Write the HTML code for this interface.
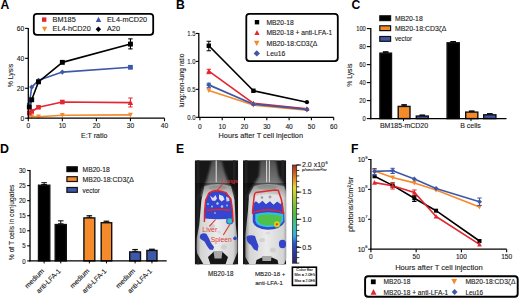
<!DOCTYPE html>
<html><head><meta charset="utf-8"><style>
html,body{margin:0;padding:0;background:#fff;}
svg{display:block;font-family:"Liberation Sans", sans-serif;}
</style></head><body>
<svg width="520" height="299" viewBox="0 0 520 299">
<rect width="520" height="299" fill="#fff"/>
<text x="0.60" y="8.70" font-size="12.2" text-anchor="start" font-weight="bold" fill="#000">A</text>
<polyline points="29.32,115.66 31.71,116.40 38.52,116.70 62.35,115.21 130.45,114.91" fill="none" stroke="#f58a2a" stroke-width="1.6" stroke-linejoin="round"/>
<polyline points="29.32,112.96 31.71,111.46 38.52,107.27 62.35,102.03 130.45,102.63" fill="none" stroke="#e3262f" stroke-width="1.6" stroke-linejoin="round"/>
<polyline points="29.32,103.83 31.71,87.06 38.52,80.33 62.35,72.09 130.45,67.30" fill="none" stroke="#3d58a8" stroke-width="1.6" stroke-linejoin="round"/>
<polyline points="29.32,106.97 31.71,99.79 38.52,81.82 62.35,62.36 130.45,44.10" fill="none" stroke="#000" stroke-width="1.6" stroke-linejoin="round"/>
<polygon points="29.32,118.16 31.72,113.56 26.92,113.56" fill="#f58a2a"/>
<polygon points="31.71,118.90 34.10,114.30 29.30,114.30" fill="#f58a2a"/>
<polygon points="38.52,119.20 40.91,114.60 36.12,114.60" fill="#f58a2a"/>
<polygon points="62.35,117.71 64.75,113.11 59.95,113.11" fill="#f58a2a"/>
<polygon points="130.45,117.41 132.85,112.81 128.05,112.81" fill="#f58a2a"/>
<rect x="27.02" y="110.66" width="4.60" height="4.60" fill="#e3262f" stroke="none" stroke-width="0" rx="0"/>
<rect x="29.41" y="109.16" width="4.60" height="4.60" fill="#e3262f" stroke="none" stroke-width="0" rx="0"/>
<rect x="36.22" y="104.97" width="4.60" height="4.60" fill="#e3262f" stroke="none" stroke-width="0" rx="0"/>
<rect x="60.05" y="99.73" width="4.60" height="4.60" fill="#e3262f" stroke="none" stroke-width="0" rx="0"/>
<line x1="130.45" y1="97.99" x2="130.45" y2="106.97" stroke="#e3262f" stroke-width="1.0"/>
<line x1="128.25" y1="97.99" x2="132.65" y2="97.99" stroke="#e3262f" stroke-width="1.0"/>
<line x1="128.25" y1="106.97" x2="132.65" y2="106.97" stroke="#e3262f" stroke-width="1.0"/>
<polygon points="130.45,99.83 133.15,105.03 127.75,105.03" fill="#e3262f"/>
<polygon points="29.32,101.23 31.92,103.83 29.32,106.43 26.72,103.83" fill="#3d58a8"/>
<polygon points="31.71,84.46 34.30,87.06 31.71,89.66 29.11,87.06" fill="#3d58a8"/>
<polygon points="38.52,77.73 41.12,80.33 38.52,82.93 35.91,80.33" fill="#3d58a8"/>
<polygon points="62.35,69.49 64.95,72.09 62.35,74.69 59.75,72.09" fill="#3d58a8"/>
<rect x="128.05" y="64.90" width="4.80" height="4.80" fill="#3d58a8" stroke="none" stroke-width="0" rx="0"/>
<rect x="26.87" y="104.52" width="4.90" height="4.90" fill="#000" stroke="none" stroke-width="0" rx="0"/>
<rect x="29.26" y="97.34" width="4.90" height="4.90" fill="#000" stroke="none" stroke-width="0" rx="0"/>
<rect x="36.06" y="79.37" width="4.90" height="4.90" fill="#000" stroke="none" stroke-width="0" rx="0"/>
<rect x="59.90" y="59.91" width="4.90" height="4.90" fill="#000" stroke="none" stroke-width="0" rx="0"/>
<rect x="128.00" y="41.65" width="4.90" height="4.90" fill="#000" stroke="none" stroke-width="0" rx="0"/>
<line x1="130.45" y1="38.86" x2="130.45" y2="48.89" stroke="#000" stroke-width="1.1"/>
<line x1="128.25" y1="38.86" x2="132.65" y2="38.86" stroke="#000" stroke-width="1.1"/>
<line x1="128.25" y1="48.89" x2="132.65" y2="48.89" stroke="#000" stroke-width="1.1"/>
<line x1="28.30" y1="27.88" x2="28.30" y2="118.80" stroke="#000" stroke-width="1.3"/>
<line x1="27.70" y1="118.20" x2="164.50" y2="118.20" stroke="#000" stroke-width="1.3"/>
<line x1="25.10" y1="118.20" x2="28.30" y2="118.20" stroke="#000" stroke-width="1.1"/>
<text x="24.30" y="120.60" font-size="6.7" text-anchor="end" font-weight="normal" fill="#222" stroke="#222" stroke-width="0.12">0</text>
<line x1="25.10" y1="88.26" x2="28.30" y2="88.26" stroke="#000" stroke-width="1.1"/>
<text x="24.30" y="90.66" font-size="6.7" text-anchor="end" font-weight="normal" fill="#222" stroke="#222" stroke-width="0.12">20</text>
<line x1="25.10" y1="58.32" x2="28.30" y2="58.32" stroke="#000" stroke-width="1.1"/>
<text x="24.30" y="60.72" font-size="6.7" text-anchor="end" font-weight="normal" fill="#222" stroke="#222" stroke-width="0.12">40</text>
<line x1="25.10" y1="28.38" x2="28.30" y2="28.38" stroke="#000" stroke-width="1.1"/>
<text x="24.30" y="30.78" font-size="6.7" text-anchor="end" font-weight="normal" fill="#222" stroke="#222" stroke-width="0.12">60</text>
<line x1="28.30" y1="118.20" x2="28.30" y2="121.20" stroke="#000" stroke-width="1.1"/>
<text x="28.30" y="127.80" font-size="6.6" text-anchor="middle" font-weight="normal" fill="#222" stroke="#222" stroke-width="0.12">0</text>
<line x1="62.35" y1="118.20" x2="62.35" y2="121.20" stroke="#000" stroke-width="1.1"/>
<text x="62.35" y="127.80" font-size="6.6" text-anchor="middle" font-weight="normal" fill="#222" stroke="#222" stroke-width="0.12">10</text>
<line x1="96.40" y1="118.20" x2="96.40" y2="121.20" stroke="#000" stroke-width="1.1"/>
<text x="96.40" y="127.80" font-size="6.6" text-anchor="middle" font-weight="normal" fill="#222" stroke="#222" stroke-width="0.12">20</text>
<line x1="130.45" y1="118.20" x2="130.45" y2="121.20" stroke="#000" stroke-width="1.1"/>
<text x="130.45" y="127.80" font-size="6.6" text-anchor="middle" font-weight="normal" fill="#222" stroke="#222" stroke-width="0.12">30</text>
<line x1="164.50" y1="118.20" x2="164.50" y2="121.20" stroke="#000" stroke-width="1.1"/>
<text x="164.50" y="127.80" font-size="6.6" text-anchor="middle" font-weight="normal" fill="#222" stroke="#222" stroke-width="0.12">40</text>
<text x="12.60" y="75.50" font-size="6.9" text-anchor="middle" font-weight="normal" fill="#222" transform="rotate(-90 12.6 75.5)" stroke="#222" stroke-width="0.12">% Lysis</text>
<text x="94.20" y="138.20" font-size="7.05" text-anchor="middle" font-weight="normal" fill="#222" stroke="#222" stroke-width="0.12">E:T ratio</text>
<rect x="33.80" y="13.80" width="119.40" height="21.00" fill="#fff" stroke="#000" stroke-width="1.8" rx="3"/>
<rect x="42.00" y="17.40" width="4.40" height="4.40" fill="#e3262f" stroke="none" stroke-width="0" rx="0"/>
<text x="52.60" y="21.90" font-size="7.3" text-anchor="start" font-weight="normal" fill="#222" stroke="#222" stroke-width="0.12">BM185</text>
<polygon points="98.50,16.75 101.25,22.05 95.75,22.05" fill="#3d58a8"/>
<text x="107.00" y="21.90" font-size="7.3" text-anchor="start" font-weight="normal" fill="#222" stroke="#222" stroke-width="0.12">EL4-mCD20</text>
<polygon points="44.60,31.70 47.20,26.70 42.00,26.70" fill="#f58a2a"/>
<text x="52.60" y="31.30" font-size="7.3" text-anchor="start" font-weight="normal" fill="#222" stroke="#222" stroke-width="0.12">EL4-hCD20</text>
<polygon points="98.40,26.55 101.15,29.30 98.40,32.05 95.65,29.30" fill="#000"/>
<text x="107.00" y="31.30" font-size="7.3" text-anchor="start" font-weight="normal" fill="#222" stroke="#222" stroke-width="0.12">A20</text>
<text x="176.10" y="8.70" font-size="12.2" text-anchor="start" font-weight="bold" fill="#000">B</text>
<polyline points="208.82,90.47 253.42,105.00 306.94,110.03" fill="none" stroke="#f58a2a" stroke-width="1.7" stroke-linejoin="round"/>
<polyline points="208.82,71.18 253.42,103.33 306.94,108.91" fill="none" stroke="#e3262f" stroke-width="1.7" stroke-linejoin="round"/>
<polyline points="208.82,84.88 253.42,104.16 306.94,109.47" fill="none" stroke="#3d58a8" stroke-width="1.7" stroke-linejoin="round"/>
<polyline points="208.82,45.75 253.42,90.75 306.94,102.21" fill="none" stroke="#000" stroke-width="1.7" stroke-linejoin="round"/>
<polygon points="208.82,93.07 211.32,88.27 206.32,88.27" fill="#f58a2a"/>
<polygon points="253.42,107.60 255.92,102.80 250.92,102.80" fill="#f58a2a"/>
<polygon points="306.94,112.63 309.44,107.83 304.44,107.83" fill="#f58a2a"/>
<polygon points="208.82,68.58 211.32,73.38 206.32,73.38" fill="#e3262f"/>
<polygon points="253.42,100.72 255.92,105.53 250.92,105.53" fill="#e3262f"/>
<polygon points="306.94,106.31 309.44,111.11 304.44,111.11" fill="#e3262f"/>
<line x1="208.82" y1="69.23" x2="208.82" y2="73.70" stroke="#e3262f" stroke-width="1.0"/>
<line x1="206.62" y1="69.23" x2="211.02" y2="69.23" stroke="#e3262f" stroke-width="1.0"/>
<line x1="206.62" y1="73.70" x2="211.02" y2="73.70" stroke="#e3262f" stroke-width="1.0"/>
<polygon points="208.82,82.28 211.42,84.88 208.82,87.48 206.22,84.88" fill="#3d58a8"/>
<polygon points="253.42,101.56 256.02,104.16 253.42,106.76 250.82,104.16" fill="#3d58a8"/>
<polygon points="306.94,106.87 309.54,109.47 306.94,112.07 304.34,109.47" fill="#3d58a8"/>
<line x1="208.82" y1="83.20" x2="208.82" y2="87.67" stroke="#3d58a8" stroke-width="1.0"/>
<line x1="206.62" y1="83.20" x2="211.02" y2="83.20" stroke="#3d58a8" stroke-width="1.0"/>
<line x1="206.62" y1="87.67" x2="211.02" y2="87.67" stroke="#3d58a8" stroke-width="1.0"/>
<rect x="206.62" y="43.55" width="4.40" height="4.40" fill="#000" stroke="none" stroke-width="0" rx="0"/>
<line x1="208.82" y1="41.28" x2="208.82" y2="50.78" stroke="#000" stroke-width="1.0"/>
<line x1="206.62" y1="41.28" x2="211.02" y2="41.28" stroke="#000" stroke-width="1.0"/>
<line x1="206.62" y1="50.78" x2="211.02" y2="50.78" stroke="#000" stroke-width="1.0"/>
<rect x="251.22" y="88.55" width="4.40" height="4.40" fill="#000" stroke="none" stroke-width="0" rx="0"/>
<circle cx="306.94" cy="102.21" r="2.10" fill="#000"/>
<line x1="198.80" y1="32.95" x2="198.80" y2="117.90" stroke="#000" stroke-width="1.3"/>
<line x1="198.20" y1="117.30" x2="333.70" y2="117.30" stroke="#000" stroke-width="1.3"/>
<line x1="195.80" y1="117.30" x2="198.80" y2="117.30" stroke="#000" stroke-width="1.1"/>
<text x="0" y="0" font-size="7.6" text-anchor="end" font-weight="normal" fill="#222" transform="translate(195.50 120.00) scale(0.78 1)" stroke="#222" stroke-width="0.12">0.0</text>
<line x1="195.80" y1="89.35" x2="198.80" y2="89.35" stroke="#000" stroke-width="1.1"/>
<text x="0" y="0" font-size="7.6" text-anchor="end" font-weight="normal" fill="#222" transform="translate(195.50 92.05) scale(0.78 1)" stroke="#222" stroke-width="0.12">0.5</text>
<line x1="195.80" y1="61.40" x2="198.80" y2="61.40" stroke="#000" stroke-width="1.1"/>
<text x="0" y="0" font-size="7.6" text-anchor="end" font-weight="normal" fill="#222" transform="translate(195.50 64.10) scale(0.78 1)" stroke="#222" stroke-width="0.12">1.0</text>
<line x1="195.80" y1="33.45" x2="198.80" y2="33.45" stroke="#000" stroke-width="1.1"/>
<text x="0" y="0" font-size="7.6" text-anchor="end" font-weight="normal" fill="#222" transform="translate(195.50 36.15) scale(0.78 1)" stroke="#222" stroke-width="0.12">1.5</text>
<line x1="199.90" y1="117.30" x2="199.90" y2="120.30" stroke="#000" stroke-width="1.1"/>
<text x="199.90" y="128.60" font-size="6.6" text-anchor="middle" font-weight="normal" fill="#222" stroke="#222" stroke-width="0.12">0</text>
<line x1="222.20" y1="117.30" x2="222.20" y2="120.30" stroke="#000" stroke-width="1.1"/>
<text x="222.20" y="128.60" font-size="6.6" text-anchor="middle" font-weight="normal" fill="#222" stroke="#222" stroke-width="0.12">10</text>
<line x1="244.50" y1="117.30" x2="244.50" y2="120.30" stroke="#000" stroke-width="1.1"/>
<text x="244.50" y="128.60" font-size="6.6" text-anchor="middle" font-weight="normal" fill="#222" stroke="#222" stroke-width="0.12">20</text>
<line x1="266.80" y1="117.30" x2="266.80" y2="120.30" stroke="#000" stroke-width="1.1"/>
<text x="266.80" y="128.60" font-size="6.6" text-anchor="middle" font-weight="normal" fill="#222" stroke="#222" stroke-width="0.12">30</text>
<line x1="289.10" y1="117.30" x2="289.10" y2="120.30" stroke="#000" stroke-width="1.1"/>
<text x="289.10" y="128.60" font-size="6.6" text-anchor="middle" font-weight="normal" fill="#222" stroke="#222" stroke-width="0.12">40</text>
<line x1="311.40" y1="117.30" x2="311.40" y2="120.30" stroke="#000" stroke-width="1.1"/>
<text x="311.40" y="128.60" font-size="6.6" text-anchor="middle" font-weight="normal" fill="#222" stroke="#222" stroke-width="0.12">50</text>
<line x1="333.70" y1="117.30" x2="333.70" y2="120.30" stroke="#000" stroke-width="1.1"/>
<text x="333.70" y="128.60" font-size="6.6" text-anchor="middle" font-weight="normal" fill="#222" stroke="#222" stroke-width="0.12">60</text>
<text x="184.00" y="80.60" font-size="7.2" text-anchor="middle" font-weight="normal" fill="#222" transform="rotate(-90 184.0 80.6)" textLength="54" lengthAdjust="spacingAndGlyphs" stroke="#222" stroke-width="0.12">lung:non-lung ratio</text>
<text x="260.80" y="137.80" font-size="7.33" text-anchor="middle" font-weight="normal" fill="#222" stroke="#222" stroke-width="0.12">Hours after T cell injection</text>
<rect x="246.30" y="13.80" width="91.50" height="47.30" fill="#fff" stroke="#000" stroke-width="1.8" rx="3"/>
<rect x="254.80" y="20.00" width="4.40" height="4.40" fill="#000" stroke="none" stroke-width="0" rx="0"/>
<text x="266.50" y="24.60" font-size="6.7" text-anchor="start" font-weight="normal" fill="#222" stroke="#222" stroke-width="0.12">MB20-18</text>
<polygon points="257.00,30.10 259.60,35.10 254.40,35.10" fill="#e3262f"/>
<text x="266.50" y="35.20" font-size="6.7" text-anchor="start" font-weight="normal" fill="#222" stroke="#222" stroke-width="0.12">MB20-18 + anti-LFA-1</text>
<polygon points="256.70,46.10 259.50,40.70 253.90,40.70" fill="#f58a2a"/>
<text x="266.50" y="45.80" font-size="6.7" text-anchor="start" font-weight="normal" fill="#222" textLength="50.7" lengthAdjust="spacingAndGlyphs" stroke="#222" stroke-width="0.12">MB20-18:CD3ζΔ</text>
<polygon points="256.80,50.20 260.00,53.40 256.80,56.60 253.60,53.40" fill="#3d58a8"/>
<text x="266.50" y="55.80" font-size="6.7" text-anchor="start" font-weight="normal" fill="#222" stroke="#222" stroke-width="0.12">Leu16</text>
<text x="351.40" y="8.90" font-size="12.2" text-anchor="start" font-weight="bold" fill="#000">C</text>
<line x1="385.70" y1="51.73" x2="385.70" y2="52.45" stroke="#000" stroke-width="1.0"/>
<line x1="382.90" y1="51.73" x2="388.50" y2="51.73" stroke="#000" stroke-width="1.0"/>
<line x1="382.90" y1="52.45" x2="388.50" y2="52.45" stroke="#000" stroke-width="1.0"/>
<rect x="379.90" y="53.15" width="11.60" height="65.45" fill="#000" stroke="#111" stroke-width="1.4" rx="0"/>
<line x1="404.10" y1="104.65" x2="404.10" y2="105.73" stroke="#000" stroke-width="1.0"/>
<line x1="401.30" y1="104.65" x2="406.90" y2="104.65" stroke="#000" stroke-width="1.0"/>
<line x1="401.30" y1="105.73" x2="406.90" y2="105.73" stroke="#000" stroke-width="1.0"/>
<rect x="398.20" y="106.43" width="11.80" height="12.17" fill="#f58a2a" stroke="#111" stroke-width="1.4" rx="0"/>
<line x1="422.30" y1="115.00" x2="422.30" y2="115.36" stroke="#000" stroke-width="1.0"/>
<line x1="419.50" y1="115.00" x2="425.10" y2="115.00" stroke="#000" stroke-width="1.0"/>
<line x1="419.50" y1="115.36" x2="425.10" y2="115.36" stroke="#000" stroke-width="1.0"/>
<rect x="416.30" y="116.06" width="12.00" height="2.54" fill="#3d58a8" stroke="#111" stroke-width="1.4" rx="0"/>
<line x1="453.20" y1="41.56" x2="453.20" y2="42.10" stroke="#000" stroke-width="1.0"/>
<line x1="450.40" y1="41.56" x2="456.00" y2="41.56" stroke="#000" stroke-width="1.0"/>
<line x1="450.40" y1="42.10" x2="456.00" y2="42.10" stroke="#000" stroke-width="1.0"/>
<rect x="447.10" y="42.80" width="12.20" height="75.80" fill="#000" stroke="#111" stroke-width="1.4" rx="0"/>
<line x1="471.75" y1="110.95" x2="471.75" y2="111.40" stroke="#000" stroke-width="1.0"/>
<line x1="468.95" y1="110.95" x2="474.55" y2="110.95" stroke="#000" stroke-width="1.0"/>
<line x1="468.95" y1="111.40" x2="474.55" y2="111.40" stroke="#000" stroke-width="1.0"/>
<rect x="465.70" y="112.10" width="12.10" height="6.50" fill="#f58a2a" stroke="#111" stroke-width="1.4" rx="0"/>
<line x1="489.80" y1="113.65" x2="489.80" y2="114.10" stroke="#000" stroke-width="1.0"/>
<line x1="487.00" y1="113.65" x2="492.60" y2="113.65" stroke="#000" stroke-width="1.0"/>
<line x1="487.00" y1="114.10" x2="492.60" y2="114.10" stroke="#000" stroke-width="1.0"/>
<rect x="483.70" y="114.80" width="12.20" height="3.80" fill="#3d58a8" stroke="#111" stroke-width="1.4" rx="0"/>
<line x1="370.80" y1="28.10" x2="370.80" y2="119.20" stroke="#000" stroke-width="1.3"/>
<line x1="370.20" y1="118.60" x2="506.50" y2="118.60" stroke="#000" stroke-width="1.3"/>
<line x1="366.80" y1="118.60" x2="370.80" y2="118.60" stroke="#000" stroke-width="1.1"/>
<text x="0" y="0" font-size="6.8" text-anchor="end" font-weight="normal" fill="#222" transform="translate(365.80 121.00) scale(0.85 1)" stroke="#222" stroke-width="0.12">0</text>
<line x1="366.80" y1="100.60" x2="370.80" y2="100.60" stroke="#000" stroke-width="1.1"/>
<text x="0" y="0" font-size="6.8" text-anchor="end" font-weight="normal" fill="#222" transform="translate(365.80 103.00) scale(0.85 1)" stroke="#222" stroke-width="0.12">20</text>
<line x1="366.80" y1="82.60" x2="370.80" y2="82.60" stroke="#000" stroke-width="1.1"/>
<text x="0" y="0" font-size="6.8" text-anchor="end" font-weight="normal" fill="#222" transform="translate(365.80 85.00) scale(0.85 1)" stroke="#222" stroke-width="0.12">40</text>
<line x1="366.80" y1="64.60" x2="370.80" y2="64.60" stroke="#000" stroke-width="1.1"/>
<text x="0" y="0" font-size="6.8" text-anchor="end" font-weight="normal" fill="#222" transform="translate(365.80 67.00) scale(0.85 1)" stroke="#222" stroke-width="0.12">60</text>
<line x1="366.80" y1="46.60" x2="370.80" y2="46.60" stroke="#000" stroke-width="1.1"/>
<text x="0" y="0" font-size="6.8" text-anchor="end" font-weight="normal" fill="#222" transform="translate(365.80 49.00) scale(0.85 1)" stroke="#222" stroke-width="0.12">80</text>
<line x1="366.80" y1="28.60" x2="370.80" y2="28.60" stroke="#000" stroke-width="1.1"/>
<text x="0" y="0" font-size="6.8" text-anchor="end" font-weight="normal" fill="#222" transform="translate(365.80 31.00) scale(0.85 1)" stroke="#222" stroke-width="0.12">100</text>
<line x1="403.50" y1="118.60" x2="403.50" y2="121.10" stroke="#000" stroke-width="1.0"/>
<line x1="471.00" y1="118.60" x2="471.00" y2="121.10" stroke="#000" stroke-width="1.0"/>
<text x="404.00" y="128.00" font-size="7.0" text-anchor="middle" font-weight="normal" fill="#222" stroke="#222" stroke-width="0.12">BM185-mCD20</text>
<text x="470.50" y="128.00" font-size="7.0" text-anchor="middle" font-weight="normal" fill="#222" stroke="#222" stroke-width="0.12">B cells</text>
<text x="352.00" y="75.20" font-size="6.8" text-anchor="middle" font-weight="normal" fill="#222" transform="rotate(-90 352.0 75.2)" stroke="#222" stroke-width="0.12">% Lysis</text>
<rect x="379.80" y="15.80" width="10.80" height="4.80" fill="#000" stroke="#111" stroke-width="1.2" rx="0"/>
<text x="395.00" y="20.60" font-size="6.9" text-anchor="start" font-weight="normal" fill="#222" textLength="27.7" lengthAdjust="spacingAndGlyphs" stroke="#222" stroke-width="0.12">MB20-18</text>
<rect x="379.80" y="25.80" width="10.80" height="4.80" fill="#f58a2a" stroke="#111" stroke-width="1.2" rx="0"/>
<text x="395.00" y="30.60" font-size="6.9" text-anchor="start" font-weight="normal" fill="#222" textLength="51.5" lengthAdjust="spacingAndGlyphs" stroke="#222" stroke-width="0.12">MB20-18:CD3ζΔ</text>
<rect x="379.80" y="36.50" width="10.80" height="4.80" fill="#3d58a8" stroke="#111" stroke-width="1.2" rx="0"/>
<text x="395.00" y="40.90" font-size="6.9" text-anchor="start" font-weight="normal" fill="#222" textLength="17" lengthAdjust="spacingAndGlyphs" stroke="#222" stroke-width="0.12">vector</text>
<text x="0.10" y="153.10" font-size="12.4" text-anchor="start" font-weight="bold" fill="#000">D</text>
<line x1="44.15" y1="182.71" x2="44.15" y2="184.52" stroke="#000" stroke-width="1.0"/>
<line x1="41.35" y1="182.71" x2="46.95" y2="182.71" stroke="#000" stroke-width="1.0"/>
<line x1="41.35" y1="184.52" x2="46.95" y2="184.52" stroke="#000" stroke-width="1.0"/>
<rect x="38.50" y="185.22" width="11.30" height="75.68" fill="#000" stroke="#111" stroke-width="1.4" rx="0"/>
<line x1="60.75" y1="220.83" x2="60.75" y2="223.84" stroke="#000" stroke-width="1.0"/>
<line x1="57.95" y1="220.83" x2="63.55" y2="220.83" stroke="#000" stroke-width="1.0"/>
<line x1="57.95" y1="223.84" x2="63.55" y2="223.84" stroke="#000" stroke-width="1.0"/>
<rect x="55.20" y="224.54" width="11.10" height="36.36" fill="#000" stroke="#111" stroke-width="1.4" rx="0"/>
<line x1="89.35" y1="215.70" x2="89.35" y2="217.21" stroke="#000" stroke-width="1.0"/>
<line x1="86.55" y1="215.70" x2="92.15" y2="215.70" stroke="#000" stroke-width="1.0"/>
<line x1="86.55" y1="217.21" x2="92.15" y2="217.21" stroke="#000" stroke-width="1.0"/>
<rect x="83.90" y="217.91" width="10.90" height="42.99" fill="#f58a2a" stroke="#111" stroke-width="1.4" rx="0"/>
<line x1="106.45" y1="221.13" x2="106.45" y2="222.03" stroke="#000" stroke-width="1.0"/>
<line x1="103.65" y1="221.13" x2="109.25" y2="221.13" stroke="#000" stroke-width="1.0"/>
<line x1="103.65" y1="222.03" x2="109.25" y2="222.03" stroke="#000" stroke-width="1.0"/>
<rect x="101.20" y="222.73" width="10.50" height="38.17" fill="#f58a2a" stroke="#111" stroke-width="1.4" rx="0"/>
<line x1="135.10" y1="249.45" x2="135.10" y2="251.26" stroke="#000" stroke-width="1.0"/>
<line x1="132.30" y1="249.45" x2="137.90" y2="249.45" stroke="#000" stroke-width="1.0"/>
<line x1="132.30" y1="251.26" x2="137.90" y2="251.26" stroke="#000" stroke-width="1.0"/>
<rect x="129.70" y="251.96" width="10.80" height="8.94" fill="#3d58a8" stroke="#111" stroke-width="1.4" rx="0"/>
<line x1="151.95" y1="249.15" x2="151.95" y2="249.75" stroke="#000" stroke-width="1.0"/>
<line x1="149.15" y1="249.15" x2="154.75" y2="249.15" stroke="#000" stroke-width="1.0"/>
<line x1="149.15" y1="249.75" x2="154.75" y2="249.75" stroke="#000" stroke-width="1.0"/>
<rect x="146.90" y="250.45" width="10.10" height="10.45" fill="#3d58a8" stroke="#111" stroke-width="1.4" rx="0"/>
<line x1="30.00" y1="170.01" x2="30.00" y2="261.50" stroke="#000" stroke-width="1.3"/>
<line x1="29.40" y1="260.90" x2="166.70" y2="260.90" stroke="#000" stroke-width="1.3"/>
<line x1="27.20" y1="260.90" x2="30.00" y2="260.90" stroke="#000" stroke-width="1.1"/>
<text x="0" y="0" font-size="7.3" text-anchor="end" font-weight="normal" fill="#222" transform="translate(25.70 263.50) scale(0.84 1)" stroke="#222" stroke-width="0.12">0</text>
<line x1="27.20" y1="245.83" x2="30.00" y2="245.83" stroke="#000" stroke-width="1.1"/>
<text x="0" y="0" font-size="7.3" text-anchor="end" font-weight="normal" fill="#222" transform="translate(25.70 248.43) scale(0.84 1)" stroke="#222" stroke-width="0.12">5</text>
<line x1="27.20" y1="230.77" x2="30.00" y2="230.77" stroke="#000" stroke-width="1.1"/>
<text x="0" y="0" font-size="7.3" text-anchor="end" font-weight="normal" fill="#222" transform="translate(25.70 233.37) scale(0.84 1)" stroke="#222" stroke-width="0.12">10</text>
<line x1="27.20" y1="215.70" x2="30.00" y2="215.70" stroke="#000" stroke-width="1.1"/>
<text x="0" y="0" font-size="7.3" text-anchor="end" font-weight="normal" fill="#222" transform="translate(25.70 218.30) scale(0.84 1)" stroke="#222" stroke-width="0.12">15</text>
<line x1="27.20" y1="200.64" x2="30.00" y2="200.64" stroke="#000" stroke-width="1.1"/>
<text x="0" y="0" font-size="7.3" text-anchor="end" font-weight="normal" fill="#222" transform="translate(25.70 203.24) scale(0.84 1)" stroke="#222" stroke-width="0.12">20</text>
<line x1="27.20" y1="185.57" x2="30.00" y2="185.57" stroke="#000" stroke-width="1.1"/>
<text x="0" y="0" font-size="7.3" text-anchor="end" font-weight="normal" fill="#222" transform="translate(25.70 188.17) scale(0.84 1)" stroke="#222" stroke-width="0.12">25</text>
<line x1="27.20" y1="170.51" x2="30.00" y2="170.51" stroke="#000" stroke-width="1.1"/>
<text x="0" y="0" font-size="7.3" text-anchor="end" font-weight="normal" fill="#222" transform="translate(25.70 173.11) scale(0.84 1)" stroke="#222" stroke-width="0.12">30</text>
<line x1="44.15" y1="260.90" x2="44.15" y2="263.40" stroke="#000" stroke-width="1.0"/>
<line x1="60.75" y1="260.90" x2="60.75" y2="263.40" stroke="#000" stroke-width="1.0"/>
<line x1="89.35" y1="260.90" x2="89.35" y2="263.40" stroke="#000" stroke-width="1.0"/>
<line x1="106.45" y1="260.90" x2="106.45" y2="263.40" stroke="#000" stroke-width="1.0"/>
<line x1="135.10" y1="260.90" x2="135.10" y2="263.40" stroke="#000" stroke-width="1.0"/>
<line x1="151.95" y1="260.90" x2="151.95" y2="263.40" stroke="#000" stroke-width="1.0"/>
<text x="44.60" y="271.60" font-size="6.8" text-anchor="end" font-weight="normal" fill="#222" transform="rotate(-45 44.6 271.59999999999997)" stroke="#222" stroke-width="0.12">medium</text>
<text x="61.20" y="271.60" font-size="6.8" text-anchor="end" font-weight="normal" fill="#222" transform="rotate(-45 61.199999999999996 271.59999999999997)" stroke="#222" stroke-width="0.12">anti-LFA-1</text>
<text x="89.80" y="271.60" font-size="6.8" text-anchor="end" font-weight="normal" fill="#222" transform="rotate(-45 89.80000000000001 271.59999999999997)" stroke="#222" stroke-width="0.12">medium</text>
<text x="106.90" y="271.60" font-size="6.8" text-anchor="end" font-weight="normal" fill="#222" transform="rotate(-45 106.9 271.59999999999997)" stroke="#222" stroke-width="0.12">anti-LFA-1</text>
<text x="135.50" y="271.60" font-size="6.8" text-anchor="end" font-weight="normal" fill="#222" transform="rotate(-45 135.5 271.59999999999997)" stroke="#222" stroke-width="0.12">medium</text>
<text x="152.40" y="271.60" font-size="6.8" text-anchor="end" font-weight="normal" fill="#222" transform="rotate(-45 152.4 271.59999999999997)" stroke="#222" stroke-width="0.12">anti-LFA-1</text>
<text x="14.40" y="222.40" font-size="7.0" text-anchor="middle" font-weight="normal" fill="#222" transform="rotate(-90 14.4 222.4)" textLength="75.5" lengthAdjust="spacingAndGlyphs" stroke="#222" stroke-width="0.12">% of T cells in conjugates</text>
<rect x="66.90" y="166.80" width="10.40" height="4.80" fill="#000" stroke="#111" stroke-width="1.2" rx="0"/>
<text x="82.60" y="172.00" font-size="6.8" text-anchor="start" font-weight="normal" fill="#222" textLength="27.2" lengthAdjust="spacingAndGlyphs" stroke="#222" stroke-width="0.12">MB20-18</text>
<rect x="66.90" y="176.70" width="10.40" height="4.80" fill="#f58a2a" stroke="#111" stroke-width="1.2" rx="0"/>
<text x="82.60" y="181.80" font-size="6.8" text-anchor="start" font-weight="normal" fill="#222" textLength="51.3" lengthAdjust="spacingAndGlyphs" stroke="#222" stroke-width="0.12">MB20-18:CD3ζΔ</text>
<rect x="66.90" y="187.50" width="10.40" height="4.80" fill="#3d58a8" stroke="#111" stroke-width="1.2" rx="0"/>
<text x="82.60" y="192.70" font-size="6.8" text-anchor="start" font-weight="normal" fill="#222" textLength="17.2" lengthAdjust="spacingAndGlyphs" stroke="#222" stroke-width="0.12">vector</text>
<text x="176.10" y="153.10" font-size="12.2" text-anchor="start" font-weight="bold" fill="#000">E</text>
<defs>
<linearGradient id="hd" x1="0" y1="0" x2="0" y2="1">
<stop offset="0" stop-color="#505050"/><stop offset="0.5" stop-color="#707070"/><stop offset="1" stop-color="#a8a8a8"/>
</linearGradient>
<linearGradient id="hdx" x1="0" y1="0" x2="1" y2="0">
<stop offset="0" stop-color="#000" stop-opacity="0.45"/><stop offset="0.3" stop-color="#000" stop-opacity="0"/><stop offset="0.7" stop-color="#000" stop-opacity="0"/><stop offset="1" stop-color="#000" stop-opacity="0.45"/>
</linearGradient>
<linearGradient id="bd" x1="0" y1="0" x2="1" y2="0">
<stop offset="0" stop-color="#909090"/><stop offset="0.1" stop-color="#d4d4d4"/><stop offset="0.5" stop-color="#ebebeb"/><stop offset="0.9" stop-color="#d4d4d4"/><stop offset="1" stop-color="#909090"/>
</linearGradient>
<radialGradient id="hot" cx="0.5" cy="0.5" r="0.5">
<stop offset="0" stop-color="#d01010"/><stop offset="0.35" stop-color="#f08a20"/><stop offset="0.6" stop-color="#f0e020"/><stop offset="1" stop-color="#58c040"/>
</radialGradient>
<radialGradient id="spl" cx="0.5" cy="0.5" r="0.5">
<stop offset="0" stop-color="#50c860"/><stop offset="0.5" stop-color="#30c0d0"/><stop offset="1" stop-color="#2a48c8"/>
</radialGradient>
<filter id="bl" x="-10%" y="-10%" width="120%" height="120%"><feGaussianBlur stdDeviation="0.55"/></filter>
<filter id="bl2" x="-10%" y="-10%" width="120%" height="120%"><feGaussianBlur stdDeviation="0.9"/></filter>
<linearGradient id="shd" x1="0" y1="0" x2="0" y2="1"><stop offset="0" stop-color="#000" stop-opacity="0.38"/><stop offset="1" stop-color="#000" stop-opacity="0"/></linearGradient>
<clipPath id="c1"><rect x="194.7" y="160.2" width="43.5" height="104.4"/></clipPath>
<clipPath id="c2"><rect x="243.0" y="160.2" width="43.2" height="104.4"/></clipPath>
</defs>
<g clip-path="url(#c1)">
<rect x="194.7" y="160.2" width="43.5" height="104.4" fill="#171717"/>
<g filter="url(#bl)">
<rect x="197" y="160.2" width="2.5" height="104.4" fill="#222"/><rect x="233" y="160.2" width="2.5" height="104.4" fill="#202020"/>
<g filter="url(#bl2)"><path d="M211.9,160.2 L221.5,160.2 L224.5,172 L228.3,181.5 L232.8,190.5 L234.5,197 L200.5,197 L201.8,190.5 L206.2,181.5 L209,172 Z" fill="url(#hd)"/>
<path d="M211.9,160.2 L221.5,160.2 L224.5,172 L228.3,181.5 L232.8,190.5 L234.5,197 L200.5,197 L201.8,190.5 L206.2,181.5 L209,172 Z" fill="url(#hdx)"/>
</g>
<rect x="215.6" y="160.2" width="1.3" height="22" fill="#c8c8c8"/>
<path d="M204.5,186 Q217,182 231,186 L234.6,200 L235.8,225 L237.5,240 L237.5,252 L232.5,264.6 L225.5,264.6 L228,257 L222,251.5 L214,251.5 L208,257 L210.5,264.6 L203.5,264.6 L197,253 L196.6,248 L196.8,238 L199.2,225 L201.4,200 Z" fill="url(#bd)"/>
<path d="M213.5,251 L222.5,251 L221.5,258.5 L214.5,258.5 Z" fill="#a8a8a8"/>
<ellipse cx="212" cy="226" rx="3" ry="2" fill="#d0d0d0"/><ellipse cx="224" cy="247" rx="3" ry="2.5" fill="#cfcfcf"/><ellipse cx="219" cy="232" rx="2" ry="1.5" fill="#d8d8d8"/><ellipse cx="217.5" cy="188" rx="9" ry="2.5" fill="#c8cac8"/>
<rect x="196" y="183" width="42" height="15" fill="url(#shd)"/>
<path d="M204.6,218.5 L204.6,210.8 L205.7,200 L208.9,193.1 Q212,190.6 216.4,190.4 Q222,190.8 226,192.6 L230.9,199 L232.5,210.8 L233,218.5 Q218,220 204.6,218.5 Z" fill="#3444d0"/>
<path d="M210,195.5 L213,198 L215.5,195 L217,198.5 L215,201 L212,200.5 Z" fill="#dcdcf0"/>
<path d="M219,194.5 L223,196 L224.5,199.5 L221.5,201.5 L219,199 Z" fill="#e4e4f4"/>
<path d="M226,196.5 L229,198 L229.5,201 L226.5,201.5 Z" fill="#d0d4f0"/>
<circle cx="217.5" cy="203.5" r="1.2" fill="#c8ccf0"/><circle cx="222" cy="206.5" r="1.3" fill="#b8c4f0"/><circle cx="212" cy="206.5" r="1" fill="#9cc8f0"/><circle cx="227" cy="205.5" r="1" fill="#80c0f0"/><circle cx="208" cy="204" r="0.9" fill="#80d0f0"/><circle cx="215" cy="213" r="0.9" fill="#7fb8f0"/>
<circle cx="229.7" cy="221" r="3.6" fill="url(#spl)"/>
<path d="M200.5,234.5 Q203.5,232.5 206.5,234 L209,238.5 L211,243 L214,247 L213,250 L209.5,249.5 L207,246 L204.5,241.5 L200.5,239 Q199,236.5 200.5,234.5 Z" fill="#3444c8"/>
<ellipse cx="235" cy="238.3" rx="1.8" ry="1.9" fill="#3444c8"/>
<path d="M204.4,222 L204.6,210.8 L205.7,200 L208.9,193.1 Q212,190.6 216.4,190.4 Q222,190.8 226,192.6 L230.9,199 L232.5,210.8 L233,222" fill="none" stroke="#e02828" stroke-width="1.5"/>
<path d="M206.8,210.4 Q218.5,208.5 230.3,210.2" fill="none" stroke="#e02828" stroke-width="1.5"/>
</g>
<text x="222.2" y="183.2" font-size="5.8" fill="#e03838">Lungs</text>
<line x1="222.6" y1="184" x2="216.4" y2="191.5" stroke="#e03030" stroke-width="1.1"/>
<text x="202.3" y="232.2" font-size="6.9" fill="#e03838">Liver</text>
<line x1="209.4" y1="226.3" x2="215.6" y2="219.5" stroke="#e03030" stroke-width="1.1"/>
<text x="210.8" y="242.3" font-size="6.7" fill="#e03838">Spleen</text>
<line x1="223.3" y1="235" x2="229.8" y2="224.5" stroke="#e03030" stroke-width="1.1"/>
</g>
<g clip-path="url(#c2)">
<rect x="243.0" y="160.2" width="43.2" height="104.4" fill="#171717"/>
<g filter="url(#bl)">
<rect x="245" y="160.2" width="2.5" height="104.4" fill="#222"/><rect x="281.5" y="160.2" width="2.5" height="104.4" fill="#202020"/>
<g filter="url(#bl2)"><path d="M260.2,160.2 L275.8,160.2 L278.6,176 L284.2,185 L287.8,192.3 L287.8,197 L248.5,197 L249.2,192.3 L253.5,185 L259.2,176 Z" fill="url(#hd)"/>
<path d="M260.2,160.2 L275.8,160.2 L278.6,176 L284.2,185 L287.8,192.3 L287.8,197 L248.5,197 L249.2,192.3 L253.5,185 L259.2,176 Z" fill="url(#hdx)"/>
</g>
<rect x="266" y="160.2" width="1.2" height="22" fill="#cfcfcf"/><rect x="268.8" y="160.2" width="1.2" height="22" fill="#cfcfcf"/>
<path d="M254,186 Q268,182 284,186 L287.5,195 L287.5,256 L284,264.6 L278.5,264.6 L277.5,260 L272,257.5 L262,257.5 L256.5,260 L255.5,264.6 L249.5,264.6 L245.4,257 L245.4,235 L248,210 L249,195 Z" fill="url(#bd)"/>
<path d="M262,256 L271.5,256 L271,261 L262.5,261 Z" fill="#a8a8a8"/>
<ellipse cx="262" cy="240" rx="3" ry="2" fill="#d2d2d2"/><ellipse cx="273" cy="250" rx="3" ry="2.5" fill="#d0d0d0"/><ellipse cx="268" cy="233" rx="2.5" ry="1.5" fill="#dadada"/><ellipse cx="267" cy="187.5" rx="10" ry="2.5" fill="#c4cac4"/>
<rect x="244" y="183" width="43" height="15" fill="url(#shd)"/>
<path d="M252.7,211.5 Q268,207.5 284.2,212 L284.6,222 Q281,229.5 267.5,229.8 Q255,229 252.8,222 Z" fill="#3444d0"/>
<path d="M255.3,214 Q268,210.5 283.3,214 L283.3,221 Q280,227 267.5,227.2 Q257,226.7 255.3,221 Z" fill="#30c0e0"/>
<path d="M257.8,215.8 Q268,213 281.5,216 L281.5,221 Q278.5,225.3 268,225.4 Q259.5,225 257.8,220.5 Z" fill="#50c048"/>
<circle cx="276.9" cy="224.2" r="3.4" fill="url(#hot)"/>
<path d="M253,204 L256,201 L259,203.5 L262.5,200.5 L266,204 L270,201 L273.5,204.5 L277,201.5 L280.5,204 L283,202.5 L283.6,212.5 Q268,208 252.8,212.2 Z" fill="#3444d0"/>
<path d="M256,196 Q266,193 279,195 L281,200 L277,201.5 L273.5,204.5 L270,201 L266,204 L262.5,200.5 L259,203.5 L256,201 L254,202 Z" fill="#e4e4e8"/>
<circle cx="262" cy="197.5" r="1.2" fill="#9a9a9a"/><circle cx="270" cy="197" r="1.4" fill="#a0a0a0"/>
<path d="M246.5,236.5 Q250.5,234.5 255,236 L256.5,240.5 L258.5,246 L257.5,251 L254,249.5 L251,245 Q246,242 246.5,236.5 Z" fill="#3444c8"/>
<ellipse cx="282.5" cy="244" rx="3.6" ry="4.2" fill="#3444c8"/>
<path d="M252.6,214 L252.6,210.8 L254.2,195.8 Q254.6,193 255.8,192.6 L275,189.9 Q277.5,189.9 278.3,190.4 L281.5,200 L283,210.8 L283.5,214" fill="none" stroke="#e02828" stroke-width="1.5"/>
<path d="M253.6,212.4 Q268.6,207 283.6,212.9" fill="none" stroke="#e02828" stroke-width="1.5"/>
</g>
</g>

<text x="220.80" y="275.50" font-size="6.3" text-anchor="middle" font-weight="normal" fill="#222" textLength="25.4" lengthAdjust="spacingAndGlyphs" stroke="#222" stroke-width="0.12">MB20-18</text>
<text x="270.20" y="275.50" font-size="6.2" text-anchor="middle" font-weight="normal" fill="#222" stroke="#222" stroke-width="0.12">MB20-18 +</text>
<text x="269.10" y="285.00" font-size="6.0" text-anchor="middle" font-weight="normal" fill="#222" stroke="#222" stroke-width="0.12">anti-LFA-1</text>
<defs><linearGradient id="cb" x1="0" y1="1" x2="0" y2="0"><stop offset="0" stop-color="#2a2468"/><stop offset="0.1" stop-color="#2a36a0"/><stop offset="0.2" stop-color="#2a50d0"/><stop offset="0.28" stop-color="#30b0e0"/><stop offset="0.38" stop-color="#38c0a0"/><stop offset="0.5" stop-color="#50b840"/><stop offset="0.64" stop-color="#98c830"/><stop offset="0.77" stop-color="#e8d830"/><stop offset="0.88" stop-color="#e07a20"/><stop offset="1" stop-color="#a82818"/></linearGradient></defs>
<rect x="292.50" y="165.00" width="4.20" height="98.20" fill="url(#cb)" stroke="#222" stroke-width="0.7" rx="0"/>
<line x1="296.60" y1="165.00" x2="299.30" y2="165.00" stroke="#000" stroke-width="0.8"/>
<line x1="296.60" y1="170.45" x2="299.30" y2="170.45" stroke="#000" stroke-width="0.8"/>
<line x1="296.60" y1="175.90" x2="299.30" y2="175.90" stroke="#000" stroke-width="0.8"/>
<line x1="296.60" y1="181.35" x2="299.30" y2="181.35" stroke="#000" stroke-width="0.8"/>
<line x1="296.60" y1="186.80" x2="299.30" y2="186.80" stroke="#000" stroke-width="0.8"/>
<line x1="296.60" y1="192.25" x2="299.30" y2="192.25" stroke="#000" stroke-width="0.8"/>
<line x1="296.60" y1="197.70" x2="299.30" y2="197.70" stroke="#000" stroke-width="0.8"/>
<line x1="296.60" y1="203.15" x2="299.30" y2="203.15" stroke="#000" stroke-width="0.8"/>
<line x1="296.60" y1="208.60" x2="299.30" y2="208.60" stroke="#000" stroke-width="0.8"/>
<line x1="296.60" y1="214.05" x2="299.30" y2="214.05" stroke="#000" stroke-width="0.8"/>
<line x1="296.60" y1="219.50" x2="299.30" y2="219.50" stroke="#000" stroke-width="0.8"/>
<line x1="296.60" y1="224.95" x2="299.30" y2="224.95" stroke="#000" stroke-width="0.8"/>
<line x1="296.60" y1="230.40" x2="299.30" y2="230.40" stroke="#000" stroke-width="0.8"/>
<line x1="296.60" y1="235.85" x2="299.30" y2="235.85" stroke="#000" stroke-width="0.8"/>
<line x1="296.60" y1="241.30" x2="299.30" y2="241.30" stroke="#000" stroke-width="0.8"/>
<line x1="296.60" y1="246.75" x2="299.30" y2="246.75" stroke="#000" stroke-width="0.8"/>
<line x1="296.60" y1="252.20" x2="299.30" y2="252.20" stroke="#000" stroke-width="0.8"/>
<line x1="296.60" y1="257.65" x2="299.30" y2="257.65" stroke="#000" stroke-width="0.8"/>
<line x1="296.60" y1="263.10" x2="299.30" y2="263.10" stroke="#000" stroke-width="0.8"/>
<line x1="296.60" y1="165.00" x2="301.20" y2="165.00" stroke="#000" stroke-width="0.9"/>
<line x1="296.60" y1="192.10" x2="301.20" y2="192.10" stroke="#000" stroke-width="0.9"/>
<line x1="296.60" y1="219.30" x2="301.20" y2="219.30" stroke="#000" stroke-width="0.9"/>
<line x1="296.60" y1="247.40" x2="301.20" y2="247.40" stroke="#000" stroke-width="0.9"/>
<text x="302.00" y="167.00" font-size="7.0" text-anchor="start" font-weight="normal" fill="#222" stroke="#222" stroke-width="0.12">2.0 x10</text>
<text x="325.40" y="163.60" font-size="4.0" text-anchor="start" font-weight="normal" fill="#222" stroke="#222" stroke-width="0.12">6</text>
<text x="302.00" y="170.90" font-size="4.3" text-anchor="start" font-weight="normal" fill="#222" textLength="24.8" lengthAdjust="spacingAndGlyphs" stroke="#222" stroke-width="0.12">p/sec/cm²/sr</text>
<text x="302.20" y="193.90" font-size="6.8" text-anchor="start" font-weight="normal" fill="#222" stroke="#222" stroke-width="0.12">1.5</text>
<text x="302.20" y="221.70" font-size="6.8" text-anchor="start" font-weight="normal" fill="#222" stroke="#222" stroke-width="0.12">1.0</text>
<text x="302.20" y="249.80" font-size="6.8" text-anchor="start" font-weight="normal" fill="#222" stroke="#222" stroke-width="0.12">0.5</text>
<rect x="292.40" y="267.20" width="24.00" height="18.20" fill="#fff" stroke="#000" stroke-width="1.6" rx="0"/>
<text x="304.60" y="270.80" font-size="4.1" text-anchor="middle" font-weight="normal" fill="#222" textLength="16.5" lengthAdjust="spacingAndGlyphs" stroke="#222" stroke-width="0.12">Color Bar</text>
<text x="304.80" y="276.00" font-size="4.1" text-anchor="middle" font-weight="normal" fill="#222" textLength="20.5" lengthAdjust="spacingAndGlyphs" stroke="#222" stroke-width="0.12">Min = 2.0E5</text>
<text x="304.80" y="281.60" font-size="4.1" text-anchor="middle" font-weight="normal" fill="#222" textLength="20.5" lengthAdjust="spacingAndGlyphs" stroke="#222" stroke-width="0.12">Max = 2.0E6</text>
<text x="351.10" y="153.10" font-size="12.2" text-anchor="start" font-weight="bold" fill="#000">F</text>
<polyline points="374.52,171.00 392.62,177.50 414.34,182.90 436.06,190.00 479.50,206.90" fill="none" stroke="#f58a2a" stroke-width="1.6" stroke-linejoin="round"/>
<polyline points="374.52,171.40 392.62,170.80 414.34,178.90 436.06,188.50 479.50,201.80" fill="none" stroke="#3d58a8" stroke-width="1.6" stroke-linejoin="round"/>
<polyline points="374.52,176.30 392.62,185.40 414.34,198.30 436.06,210.70 479.50,241.00" fill="none" stroke="#000" stroke-width="1.6" stroke-linejoin="round"/>
<polyline points="374.52,182.60 392.62,185.80 414.34,192.40 436.06,216.50 479.50,244.30" fill="none" stroke="#e3262f" stroke-width="1.6" stroke-linejoin="round"/>
<polygon points="374.52,173.50 376.92,168.90 372.12,168.90" fill="#f58a2a"/>
<polygon points="392.62,180.00 395.02,175.40 390.22,175.40" fill="#f58a2a"/>
<polygon points="414.34,185.40 416.74,180.80 411.94,180.80" fill="#f58a2a"/>
<polygon points="436.06,192.50 438.46,187.90 433.66,187.90" fill="#f58a2a"/>
<polygon points="479.50,209.40 481.90,204.80 477.10,204.80" fill="#f58a2a"/>
<polygon points="374.52,168.90 377.02,171.40 374.52,173.90 372.02,171.40" fill="#3d58a8"/>
<polygon points="392.62,168.30 395.12,170.80 392.62,173.30 390.12,170.80" fill="#3d58a8"/>
<polygon points="414.34,176.40 416.84,178.90 414.34,181.40 411.84,178.90" fill="#3d58a8"/>
<polygon points="436.06,186.00 438.56,188.50 436.06,191.00 433.56,188.50" fill="#3d58a8"/>
<polygon points="479.50,199.30 482.00,201.80 479.50,204.30 477.00,201.80" fill="#3d58a8"/>
<rect x="372.52" y="174.30" width="4.00" height="4.00" fill="#000" stroke="none" stroke-width="0" rx="0"/>
<rect x="390.62" y="183.40" width="4.00" height="4.00" fill="#000" stroke="none" stroke-width="0" rx="0"/>
<rect x="412.34" y="196.30" width="4.00" height="4.00" fill="#000" stroke="none" stroke-width="0" rx="0"/>
<rect x="434.06" y="208.70" width="4.00" height="4.00" fill="#000" stroke="none" stroke-width="0" rx="0"/>
<rect x="477.50" y="239.00" width="4.00" height="4.00" fill="#000" stroke="none" stroke-width="0" rx="0"/>
<polygon points="374.52,180.10 376.92,184.70 372.12,184.70" fill="#e3262f"/>
<polygon points="392.62,183.30 395.02,187.90 390.22,187.90" fill="#e3262f"/>
<polygon points="414.34,189.90 416.74,194.50 411.94,194.50" fill="#e3262f"/>
<polygon points="436.06,214.00 438.46,218.60 433.66,218.60" fill="#e3262f"/>
<polygon points="479.50,241.80 481.90,246.40 477.10,246.40" fill="#e3262f"/>
<line x1="374.52" y1="168.50" x2="374.52" y2="175.00" stroke="#3d58a8" stroke-width="1.0"/>
<line x1="372.32" y1="168.50" x2="376.72" y2="168.50" stroke="#3d58a8" stroke-width="1.0"/>
<line x1="372.32" y1="175.00" x2="376.72" y2="175.00" stroke="#3d58a8" stroke-width="1.0"/>
<line x1="392.62" y1="168.30" x2="392.62" y2="173.50" stroke="#3d58a8" stroke-width="1.0"/>
<line x1="390.42" y1="168.30" x2="394.82" y2="168.30" stroke="#3d58a8" stroke-width="1.0"/>
<line x1="390.42" y1="173.50" x2="394.82" y2="173.50" stroke="#3d58a8" stroke-width="1.0"/>
<line x1="479.50" y1="198.00" x2="479.50" y2="205.50" stroke="#3d58a8" stroke-width="1.0"/>
<line x1="477.30" y1="198.00" x2="481.70" y2="198.00" stroke="#3d58a8" stroke-width="1.0"/>
<line x1="477.30" y1="205.50" x2="481.70" y2="205.50" stroke="#3d58a8" stroke-width="1.0"/>
<line x1="392.62" y1="182.50" x2="392.62" y2="189.00" stroke="#e3262f" stroke-width="1.0"/>
<line x1="390.42" y1="182.50" x2="394.82" y2="182.50" stroke="#e3262f" stroke-width="1.0"/>
<line x1="390.42" y1="189.00" x2="394.82" y2="189.00" stroke="#e3262f" stroke-width="1.0"/>
<line x1="414.34" y1="190.00" x2="414.34" y2="195.50" stroke="#e3262f" stroke-width="1.0"/>
<line x1="412.14" y1="190.00" x2="416.54" y2="190.00" stroke="#e3262f" stroke-width="1.0"/>
<line x1="412.14" y1="195.50" x2="416.54" y2="195.50" stroke="#e3262f" stroke-width="1.0"/>
<line x1="414.34" y1="196.00" x2="414.34" y2="201.50" stroke="#000" stroke-width="1.0"/>
<line x1="412.14" y1="196.00" x2="416.54" y2="196.00" stroke="#000" stroke-width="1.0"/>
<line x1="412.14" y1="201.50" x2="416.54" y2="201.50" stroke="#000" stroke-width="1.0"/>
<line x1="370.90" y1="159.00" x2="370.90" y2="249.80" stroke="#000" stroke-width="1.3"/>
<line x1="370.30" y1="249.20" x2="506.65" y2="249.20" stroke="#000" stroke-width="1.3"/>
<line x1="368.10" y1="249.20" x2="370.90" y2="249.20" stroke="#000" stroke-width="1.0"/>
<text x="365.10" y="251.60" font-size="6.7" text-anchor="end" font-weight="normal" fill="#222" stroke="#222" stroke-width="0.12">10</text>
<text x="365.20" y="248.20" font-size="4.0" text-anchor="start" font-weight="normal" fill="#222" stroke="#222" stroke-width="0.12">6</text>
<line x1="368.10" y1="219.30" x2="370.90" y2="219.30" stroke="#000" stroke-width="1.0"/>
<text x="365.10" y="221.70" font-size="6.7" text-anchor="end" font-weight="normal" fill="#222" stroke="#222" stroke-width="0.12">10</text>
<text x="365.20" y="218.30" font-size="4.0" text-anchor="start" font-weight="normal" fill="#222" stroke="#222" stroke-width="0.12">7</text>
<line x1="368.10" y1="189.40" x2="370.90" y2="189.40" stroke="#000" stroke-width="1.0"/>
<text x="365.10" y="191.80" font-size="6.7" text-anchor="end" font-weight="normal" fill="#222" stroke="#222" stroke-width="0.12">10</text>
<text x="365.20" y="188.40" font-size="4.0" text-anchor="start" font-weight="normal" fill="#222" stroke="#222" stroke-width="0.12">8</text>
<line x1="368.10" y1="159.50" x2="370.90" y2="159.50" stroke="#000" stroke-width="1.0"/>
<text x="365.10" y="161.90" font-size="6.7" text-anchor="end" font-weight="normal" fill="#222" stroke="#222" stroke-width="0.12">10</text>
<text x="365.20" y="158.50" font-size="4.0" text-anchor="start" font-weight="normal" fill="#222" stroke="#222" stroke-width="0.12">9</text>
<line x1="370.90" y1="249.20" x2="370.90" y2="252.20" stroke="#000" stroke-width="1.1"/>
<text x="370.90" y="259.40" font-size="6.6" text-anchor="middle" font-weight="normal" fill="#222" stroke="#222" stroke-width="0.12">0</text>
<line x1="416.15" y1="249.20" x2="416.15" y2="252.20" stroke="#000" stroke-width="1.1"/>
<text x="416.15" y="259.40" font-size="6.6" text-anchor="middle" font-weight="normal" fill="#222" stroke="#222" stroke-width="0.12">50</text>
<line x1="461.40" y1="249.20" x2="461.40" y2="252.20" stroke="#000" stroke-width="1.1"/>
<text x="461.40" y="259.40" font-size="6.6" text-anchor="middle" font-weight="normal" fill="#222" stroke="#222" stroke-width="0.12">100</text>
<line x1="506.65" y1="249.20" x2="506.65" y2="252.20" stroke="#000" stroke-width="1.1"/>
<text x="506.65" y="259.40" font-size="6.6" text-anchor="middle" font-weight="normal" fill="#222" stroke="#222" stroke-width="0.12">150</text>
<text x="352.80" y="204.40" font-size="7.5" text-anchor="middle" font-weight="normal" fill="#222" transform="rotate(-90 352.8 204.4)" stroke="#222" stroke-width="0.12">photons/s/cm²/sr</text>
<text x="438.90" y="269.70" font-size="7.6" text-anchor="middle" font-weight="normal" fill="#222" stroke="#222" stroke-width="0.12">Hours after T cell injection</text>
<rect x="365.10" y="276.30" width="152.60" height="20.40" fill="#fff" stroke="#000" stroke-width="1.9" rx="3"/>
<rect x="370.90" y="279.40" width="4.80" height="4.80" fill="#000" stroke="none" stroke-width="0" rx="0"/>
<text x="383.60" y="284.00" font-size="6.6" text-anchor="start" font-weight="normal" fill="#222" stroke="#222" stroke-width="0.12">MB20-18</text>
<polygon points="373.50,288.90 376.50,294.70 370.50,294.70" fill="#e3262f"/>
<text x="383.60" y="294.70" font-size="6.6" text-anchor="start" font-weight="normal" fill="#222" stroke="#222" stroke-width="0.12">MB20-18 + anti-LFA-1</text>
<polygon points="454.20,284.60 457.10,279.00 451.30,279.00" fill="#f58a2a"/>
<text x="465.40" y="284.00" font-size="6.6" text-anchor="start" font-weight="normal" fill="#222" textLength="50" lengthAdjust="spacingAndGlyphs" stroke="#222" stroke-width="0.12">MB20-18:CD3ζΔ</text>
<polygon points="454.60,289.10 457.50,292.00 454.60,294.90 451.70,292.00" fill="#3d58a8"/>
<text x="465.40" y="294.70" font-size="6.4" text-anchor="start" font-weight="normal" fill="#222" stroke="#222" stroke-width="0.12">Leu16</text>
</svg></body></html>
